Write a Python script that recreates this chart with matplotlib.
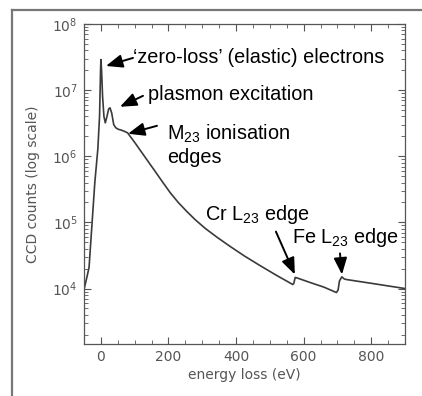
import matplotlib
matplotlib.use("Agg")
import matplotlib.pyplot as plt
from matplotlib.ticker import FixedLocator, MultipleLocator, LogLocator, NullFormatter
from matplotlib.lines import Line2D

plt.rcParams["font.family"] = ["DejaVu Sans"]
plt.rcParams["mathtext.fontset"] = "dejavusans"
plt.rcParams["mathtext.rm"] = "Liberation Sans"
plt.rcParams["mathtext.it"] = "Liberation Sans:italic"
plt.rcParams["mathtext.bf"] = "Liberation Sans:bold"

# EELS spectrum: energy loss (eV) vs CCD counts
energy = [-50, -40, -35, -26, -18, -9, -4, -1, 0, 2, 5, 9, 13, 18, 23, 27, 32, 38, 44,
          52, 59, 68, 79, 100, 132, 160, 182, 205, 229, 255, 279, 309, 345, 382, 425,
          470, 520, 568, 571, 575, 580, 620, 660, 697, 702, 706, 713, 720, 726, 800, 900]
counts = [9.6e3, 1.6e4, 2.1e4, 1.0e5, 4.0e5, 1.3e6, 4.0e6, 2.0e7, 2.9e7, 2.0e7, 8.0e6,
          4.0e6, 3.2e6, 4.0e6, 5.2e6, 5.4e6, 4.5e6, 3.0e6, 2.7e6,
          2.55e6, 2.5e6, 2.4e6, 2.26e6, 1.62e6, 9.5e5, 5.96e5, 4.12e5, 2.82e5, 2.0e5,
          1.45e5, 1.1e5, 8.1e4, 5.9e4, 4.35e4, 3.1e4,
          2.24e4, 1.58e4, 1.15e4, 1.2e4,
          1.47e4, 1.45e4, 1.23e4, 1.05e4, 8.7e3, 9.5e3, 1.3e4, 1.5e4, 1.4e4, 1.37e4,
          1.2e4, 1.0e4]

x_ticks = [0, 200, 400, 600, 800]

# annotation labels: (text, text position, arrow tail, arrow tip)
labels = [
    ("\u2018zero-loss\u2019 (elastic) electrons", (95, 3.16e7), (95, 3.07e7), (15, 2.32e7)),
    ("plasmon excitation", (139, 8.47e6), (124.6, 8.2e6), (56.5, 5.6e6)),
    ("M$_{23}$ ionisation", (195.6, 2.22e6), (166, 2.89e6), (80.2, 2.19e6)),
    ("edges", (195.6, 9.5e5), None, None),
    ("Cr L$_{\\mathit{23}}$ edge", (308, 1.31e5), (518, 7.25e4), (574, 1.63e4)),
    ("Fe L$_{\\mathit{23}}$ edge", (565, 5.9e4), (707.6, 3.4e4), (713.5, 1.63e4)),
]

W, H = 422, 396
fig = plt.figure(figsize=(W / 100, H / 100), dpi=100)
fig.patch.set_facecolor("white")

# outer frame
fig.add_artist(Line2D([12 / W, 12 / W], [1 - 10 / H, 0], transform=fig.transFigure,
                      color="#777777", lw=1.6))
fig.add_artist(Line2D([12 / W, 1], [1 - 10 / H, 1 - 10 / H], transform=fig.transFigure,
                      color="#777777", lw=1.6))

ax = fig.add_axes([84 / W, 1 - 344 / H, (405 - 84) / W, (344 - 24) / H])
ax.semilogy(energy, counts, color="#3a3a3a", lw=1.2)
ax.set_xlim(-50, 900)
ax.set_ylim(1.45e3, 1e8)

ax.xaxis.set_major_locator(FixedLocator(x_ticks))
ax.xaxis.set_minor_locator(MultipleLocator(50))
ax.yaxis.set_major_locator(LogLocator(base=10, numticks=10))
ax.yaxis.set_minor_locator(LogLocator(base=10, subs=range(2, 10), numticks=20))
ax.yaxis.set_minor_formatter(NullFormatter())

ax.tick_params(which="both", direction="in", top=True, right=True, colors="#555555")
ax.tick_params(which="major", length=5, width=0.8, labelsize=10, pad=4.5)
ax.tick_params(which="minor", length=3, width=0.6)
for s in ax.spines.values():
    s.set_color("#555555")
    s.set_linewidth(0.9)

ax.set_xlabel("energy loss (eV)", fontsize=10, color="#555555")
ax.set_ylabel("CCD counts (log scale)", fontsize=10, color="#555555")
ax.xaxis.set_label_coords(0.5, -0.075)
ax.yaxis.set_label_coords(-0.137, 0.5)

for text, pos, tail, tip in labels:
    ax.text(pos[0], pos[1], text, ha="left", va="center", fontsize=14.3,
            family="Liberation Sans", math_fontfamily="custom", color="black")
    if tail is not None:
        ax.annotate("", xy=tip, xytext=tail,
                    arrowprops=dict(arrowstyle="-|>,head_length=1.0,head_width=0.4",
                                    mutation_scale=10, color="black", lw=1.4,
                                    shrinkA=0, shrinkB=0))

fig.savefig("out.png", dpi=100)
